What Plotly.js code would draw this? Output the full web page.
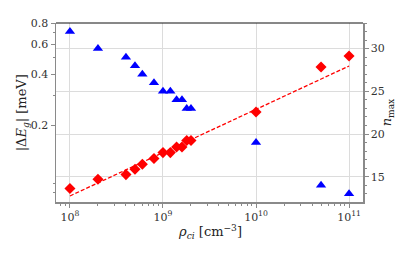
<!DOCTYPE html>
<html>
<head>
<meta charset="utf-8">
<script src="https://cdn.plot.ly/plotly-3.0.1.min.js"></script>
<style>html,body{margin:0;padding:0;background:#fff;}#chart{width:415px;height:257px;}</style>
</head>
<body>
<div id="chart"></div>
<script>
// Data
var rho = [1e8, 2e8, 4e8, 5e8, 6e8, 8e8, 1e9, 1.2e9, 1.4e9, 1.6e9, 1.8e9, 2e9, 1e10, 5e10, 1e11];
var deltaEg = [0.0844, 0.0957, 0.102, 0.1096, 0.1173, 0.1268, 0.1375, 0.1375, 0.1484, 0.1484, 0.162, 0.162, 0.239, 0.44, 0.511];
var nMax = [32, 30, 29, 28, 27, 26, 25, 25, 24, 24, 23, 23, 19, 14, 13];
var fitX = [1e8, 1e11];
var fitY = [0.0763, 0.446];
var xTickVals = [1e8, 1e9, 1e10, 1e11];
var xTickText = ['10<sup>8</sup>', '10<sup>9</sup>', '10<sup>10</sup>', '10<sup>11</sup>'];
var yTickVals = [0.2, 0.4, 0.6, 0.8];
var yTickText = ['0.2', '0.4', '0.6', '0.8'];
var yMinorVals = [0.08, 0.09, 0.3, 0.5, 0.7];
var xTitle = '<i>ρ</i><sub><i>ci</i></sub> [cm<sup>−3</sup>]';
var yTitle = '|Δ<i>E</i><sub><i>g</i></sub>| [meV]';
var y2Title = '<i>n</i><sub>max</sub>';

var xMinor = [];
for (var d = 7; d <= 11; d++) {
  for (var m = 2; m <= 9; m++) xMinor.push(m * Math.pow(10, d));
}

var font = 'DejaVu Serif';
var spine = '#8a8a8a';

var traces = [
  {x: fitX, y: fitY, type: 'scatter', mode: 'lines', xaxis: 'x', yaxis: 'y',
   line: {color: '#ff0000', width: 1.3, dash: '4px,2px'}, hoverinfo: 'skip', showlegend: false},
  {x: rho, y: deltaEg, type: 'scatter', mode: 'markers', xaxis: 'x', yaxis: 'y',
   marker: {symbol: 'diamond', size: 8.5, color: '#ff0000'}, showlegend: false},
  {x: rho, y: nMax, type: 'scatter', mode: 'markers', xaxis: 'x', yaxis: 'y2',
   marker: {symbol: 'triangle-up', size: 9, color: '#0000ff'}, showlegend: false}
];

var layout = {
  width: 415, height: 257,
  margin: {l: 56, r: 52, t: 23, b: 55, pad: 0},
  paper_bgcolor: '#fff', plot_bgcolor: '#fff',
  font: {family: font, size: 11, color: '#222'},
  showlegend: false,
  xaxis: {
    type: 'log', range: [7.85, 11.15], autorange: false,
    tickmode: 'array', tickvals: xTickVals, ticktext: xTickText,
    ticks: 'outside', ticklen: 4, tickcolor: spine, tickwidth: 1,
    showline: true, linecolor: spine, linewidth: 1.5,
    showgrid: true, gridcolor: '#dcdcdc', gridwidth: 1, zeroline: false,
    tickfont: {family: font, size: 11, color: '#333'},
    minor: {tickvals: xMinor, ticks: 'outside', ticklen: 2, tickcolor: spine, showgrid: false}
  },
  yaxis: {
    type: 'log', range: [Math.log10(0.0703), Math.log10(0.8)], autorange: false,
    tickmode: 'array', tickvals: yTickVals, ticktext: yTickText,
    ticks: 'outside', ticklen: 4, tickcolor: spine, tickwidth: 1,
    showline: true, linecolor: spine, linewidth: 1.5,
    showgrid: false, zeroline: false,
    tickfont: {family: font, size: 11, color: '#333'},
    minor: {tickvals: yMinorVals, ticks: 'outside', ticklen: 2, tickcolor: spine, showgrid: false}
  },
  yaxis2: {
    overlaying: 'y', side: 'right', range: [12.04, 33.0], autorange: false,
    tickmode: 'linear', tick0: 15, dtick: 5,
    ticks: 'outside', ticklen: 4, tickcolor: spine, tickwidth: 1,
    showline: true, linecolor: spine, linewidth: 1.5,
    showgrid: true, gridcolor: '#dcdcdc', gridwidth: 1, zeroline: false,
    tickfont: {family: font, size: 11, color: '#333'},
    minor: {dtick: 1, tick0: 0, ticks: 'outside', ticklen: 2, tickcolor: spine, showgrid: false}
  },
  annotations: [
    {text: xTitle, xref: 'paper', yref: 'paper', x: 0.502, y: -0.165, xanchor: 'center', yanchor: 'middle',
     showarrow: false, font: {family: font, size: 13, color: '#222'}},
    {text: yTitle, xref: 'paper', yref: 'paper', x: -0.108, y: 0.5, xanchor: 'center', yanchor: 'middle',
     textangle: -90, showarrow: false, font: {family: font, size: 13, color: '#222'}},
    {text: y2Title, xref: 'paper', yref: 'paper', x: 1.081, y: 0.5, xanchor: 'center', yanchor: 'middle',
     textangle: -90, showarrow: false, font: {family: font, size: 13, color: '#222'}}
  ],
  shapes: [
    {type: 'line', xref: 'paper', yref: 'paper', x0: 0, x1: 1, y0: 1, y1: 1,
     line: {color: '#111', width: 1}}
  ]
};

Plotly.newPlot('chart', traces, layout, {displayModeBar: false, staticPlot: true});
</script>
</body>
</html>
